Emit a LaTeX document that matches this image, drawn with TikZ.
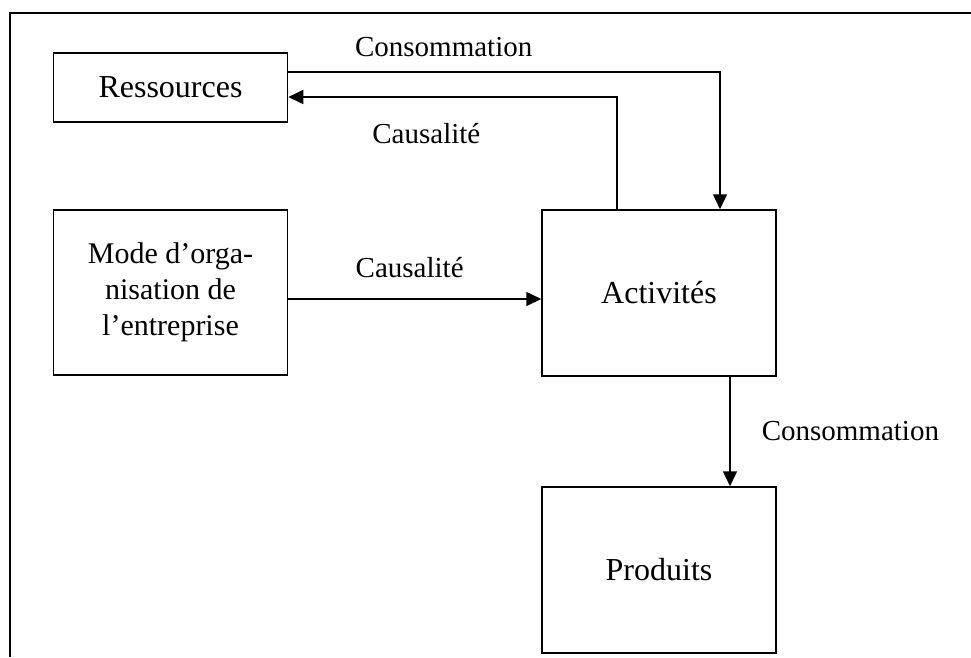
\documentclass[tikz,border=0pt]{standalone}
\usepackage{fontspec}
\setmainfont{Liberation Serif}
\usepackage{tikz}
\usetikzlibrary{arrows.meta}

\begin{document}
\begin{tikzpicture}[x=1pt, y=-1pt, line width=1.5pt,
    box/.style={shape=rectangle, draw=black, inner sep=0pt, minimum width=234pt,
                font=\fontsize{32}{36}\selectfont},
    lbl/.style={font=\fontsize{29}{34}\selectfont, inner sep=0pt},
    arr/.style={-{Triangle[length=15pt,width=14pt]}}]
    \useasboundingbox (0,0) rectangle (971,657);
    % outer frame
    \draw[line width=1.8pt] (10,657) -- (10,13);
    \draw[line width=2.8pt] (9.1,13) -- (971,13);

    \node[box, minimum height=69pt] (res) at (170.5, 87.5) {Ressources};
    \node[box, minimum height=165pt, align=center,
          font=\fontsize{30}{36}\selectfont] (mode) at (170.5, 292.5) {Mode d’orga-\\nisation de\\l’entreprise};
    \node[box, minimum height=166pt] (act) at (659, 293) {Activités};
    \node[box, minimum height=166pt] (prod) at (659, 570) {Produits};

    \coordinate (k1) at (720, 72);
    \coordinate (k2) at (617, 97);
    \coordinate (k3) at (0, 299);
    \coordinate (k4) at (730, 0);

    \draw [arr] (res.east |- k1) -| node[lbl, pos=0.18, above=14pt] (cons1) {Consommation} (act.north -| k1);
    \draw [arr] (act.north -| k2) |- node[lbl, pos=0.79, below=26pt] (caus1) {Causalité} (res.east |- k2);
    \draw [arr] (mode.east |- k3) -- node[lbl, pos=0.48, above=20pt] (caus2) {Causalité} (act.west |- k3);
    \draw [arr] (act.south -| k4) -- node[lbl, right=31pt] (cons2) {Consommation} (prod.north -| k4);
\end{tikzpicture}
\end{document}
